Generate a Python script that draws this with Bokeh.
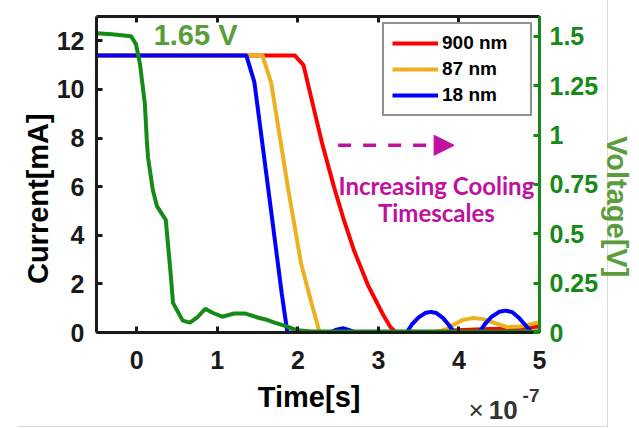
from bokeh.plotting import figure
from bokeh.layouts import column
from bokeh.models import (Range1d, LinearAxis, FixedTicker, Legend, LegendItem,
                          Label, Arrow, NormalHead)
from bokeh.embed import file_html
from bokeh.resources import INLINE

# time axis values are in units of 1e-7 s
t_ticks = [0, 1, 2, 3, 4, 5]
i_ticks = [0, 2, 4, 6, 8, 10, 12]
v_ticks = [0, 0.25, 0.5, 0.75, 1.0, 1.25, 1.5]
v_tick_labels = ["0", "0.25", "0.5", "0.75", "1", "1.25", "1.5"]

# current through the device for three film thicknesses [mA]
t_900 = [-0.5, 1.96, 2.07, 2.17, 2.30, 2.45, 2.56, 2.70, 2.87, 3.06, 3.15, 3.22,
         3.60, 3.90, 4.20, 4.50, 4.80, 5.0]
i_900 = [11.4, 11.4, 11.0, 9.6, 7.8, 5.97, 4.75, 3.35, 1.95, 0.72, 0.22, 0.0,
         0.0, 0.08, 0.12, 0.15, 0.2, 0.25]

t_87 = [-0.5, 1.56, 1.67, 1.88, 2.04, 2.17, 2.27, 3.72, 3.85, 3.95, 4.05, 4.18,
        4.30, 4.45, 4.60, 4.75, 4.90, 5.0]
i_87 = [11.4, 11.4, 10.25, 5.9, 2.84, 1.2, 0.0, 0.0, 0.15, 0.35, 0.52, 0.6,
        0.55, 0.38, 0.22, 0.25, 0.35, 0.42]

t_18 = [-0.5, 1.36, 1.46, 1.66, 1.80, 1.87, 2.40, 2.48, 2.56, 2.64, 2.72,
        3.35, 3.42, 3.50, 3.58, 3.65, 3.72, 3.80, 3.87, 3.94,
        4.25, 4.33, 4.41, 4.50, 4.58, 4.66, 4.74, 4.82, 4.90, 5.0]
i_18 = [11.4, 11.4, 10.3, 5.2, 1.6, 0.0, 0.0, 0.12, 0.18, 0.1, 0.0,
        0.0, 0.35, 0.62, 0.80, 0.85, 0.80, 0.60, 0.33, 0.0,
        0.0, 0.38, 0.66, 0.85, 0.90, 0.84, 0.62, 0.32, 0.02, 0.0]

# applied voltage pulse [V]
t_volt = [-0.5, -0.31, -0.07, -0.01, 0.04, 0.10, 0.125, 0.14, 0.20, 0.25, 0.36,
          0.42, 0.45, 0.57, 0.66, 0.75, 0.85, 0.94, 1.06, 1.21, 1.35, 1.50,
          1.60, 1.71, 1.83, 1.99, 2.17, 2.6, 3.0, 3.5, 4.0, 4.5, 5.0]
v_volt = [1.515, 1.51, 1.50, 1.46, 1.36, 1.16, 0.97, 0.885, 0.72, 0.64, 0.57,
          0.30, 0.15, 0.06, 0.05, 0.076, 0.12, 0.10, 0.08, 0.096, 0.096, 0.076,
          0.066, 0.05, 0.035, 0.012, 0.005, 0.005, 0.005, 0.005, 0.005, 0.005, 0.005]

RED, YELLOW, BLUE, GREEN = "#ff0000", "#edb120", "#0000ff", "#168a16"
LIGHT_GREEN = "#5a9e3c"
MAGENTA = "#c010a0"
AXIS = "#1a1a1a"
FONT = "Liberation Sans"
EDGE = "#dadada"
NBSP = "\u00a0"

p = figure(width=639, height=380, output_backend="svg", toolbar_location=None,
           title=None, x_range=Range1d(-0.5, 5), y_range=Range1d(0, 13),
           min_border_left=96, min_border_right=100, min_border_top=16,
           min_border_bottom=48, x_axis_type=None, y_axis_type=None)
p.extra_y_ranges = {"volt": Range1d(0, 1.6)}
p.grid.visible = False
p.outline_line_color = None
p.background_fill_color = "white"
p.border_fill_alpha = 0
p.styles = {"background": f"linear-gradient({EDGE},{EDGE}) 607px 0px / 1px 380px no-repeat, white"}


def style_axis(ax, color, label_color):
    ax.axis_line_width = 3
    ax.axis_line_color = color
    ax.major_tick_line_color = color
    ax.major_tick_line_width = 3
    ax.major_tick_in = 6
    ax.major_tick_out = 0
    ax.minor_tick_line_color = None
    ax.major_label_text_font = FONT
    ax.major_label_text_font_style = "bold"
    ax.major_label_text_font_size = "25px"
    ax.major_label_text_color = label_color
    ax.axis_label_text_font = FONT
    ax.axis_label_text_font_style = "bold"
    ax.axis_label_text_font_size = "29px"


xb = LinearAxis(ticker=FixedTicker(ticks=t_ticks))
style_axis(xb, AXIS, AXIS)
xb.major_label_standoff = 18
p.add_layout(xb, "below")

# frame top edge with inward ticks, no labels
xt = LinearAxis(ticker=FixedTicker(ticks=t_ticks))
style_axis(xt, AXIS, AXIS)
xt.major_label_overrides = {float(k): "" for k in t_ticks}
xt.major_label_text_font_size = "1px"
xt.major_label_standoff = 0
p.add_layout(xt, "above")

# padded with no-break spaces so the titles sit a little below the middle
yl = LinearAxis(ticker=FixedTicker(ticks=i_ticks), axis_label="Current[mA]" + NBSP * 6)
style_axis(yl, AXIS, AXIS)
yl.major_label_standoff = 12
yl.axis_label_standoff = 0
yl.axis_label_text_color = "black"
p.add_layout(yl, "left")

yr = LinearAxis(y_range_name="volt", ticker=FixedTicker(ticks=v_ticks),
                axis_label=NBSP * 8 + "Voltage[V]")
style_axis(yr, GREEN, GREEN)
yr.major_label_overrides = {float(k): s for k, s in zip(v_ticks, v_tick_labels)}
yr.major_label_standoff = 10
yr.axis_label_standoff = 0
yr.axis_label_text_color = LIGHT_GREEN
p.add_layout(yr, "right")

r_red = p.line(t_900, i_900, line_color=RED, line_width=4)
r_yel = p.line(t_87, i_87, line_color=YELLOW, line_width=4)
r_blu = p.line(t_18, i_18, line_color=BLUE, line_width=4)
p.line(t_volt, v_volt, line_color=GREEN, line_width=4, y_range_name="volt")

legend = Legend(items=[LegendItem(label="900 nm", renderers=[r_red]),
                       LegendItem(label="87 nm", renderers=[r_yel]),
                       LegendItem(label="18 nm", renderers=[r_blu])],
                location=(286, 216), orientation="vertical",
                border_line_color="#262626", border_line_width=2,
                background_fill_color="white", background_fill_alpha=1,
                label_text_font=FONT, label_text_font_style="bold",
                label_text_font_size="19px", label_text_color="black",
                glyph_width=46, glyph_height=22, label_height=22, label_width=80,
                label_standoff=4, spacing=4, padding=8, margin=0)
p.add_layout(legend)

p.add_layout(Label(x=0.73, y=12.22, text="1.65 V", text_align="center",
                   text_baseline="middle", text_font=FONT,
                   text_font_style="bold", text_font_size="29px",
                   text_color=LIGHT_GREEN))

p.add_layout(Arrow(end=NormalHead(size=20, fill_color=MAGENTA, line_color=MAGENTA),
                   x_start=2.50, y_start=7.7, x_end=3.94, y_end=7.7,
                   line_color=MAGENTA, line_width=3.5, line_dash="13 12"))

for txt, ty in (("Increasing Cooling", 6.05), ("Timescales", 4.94)):
    p.add_layout(Label(x=3.72, y=ty, text=txt, text_align="center",
                       text_baseline="middle", text_font="Lato",
                       text_font_style="bold", text_font_size="24px",
                       text_color=MAGENTA))

# strip under the plot carrying the time-axis title and its multiplier
q = figure(width=639, height=48, output_backend="svg", toolbar_location=None,
           title=None, x_range=Range1d(-0.5, 5), y_range=Range1d(0, 48),
           min_border_left=96, min_border_right=100, min_border_top=0,
           min_border_bottom=0, x_axis_type=None, y_axis_type=None)
q.grid.visible = False
q.outline_line_color = None
q.background_fill_alpha = 0
q.border_fill_alpha = 0
q.styles = {"background": f"linear-gradient({EDGE},{EDGE}) 18px 46px / 590px 1px no-repeat, "
                          f"linear-gradient({EDGE},{EDGE}) 607px 0px / 1px 47px no-repeat, white"}

q.add_layout(Label(x=2.14, y=31.5, text="Time[s]", text_align="center",
                   text_baseline="middle", text_font=FONT,
                   text_font_style="bold", text_font_size="29px",
                   text_color="black"))
q.add_layout(Label(x=4.12, y=18.5, text="\u00d7", text_align="left",
                   text_baseline="middle", text_font=FONT,
                   text_font_size="26px", text_color="#333333"))
q.add_layout(Label(x=4.37, y=18.5, text="10", text_align="left",
                   text_baseline="middle", text_font=FONT,
                   text_font_style="bold", text_font_size="26px",
                   text_color="#333333"))
q.add_layout(Label(x=4.79, y=33, text="-7", text_align="left",
                   text_baseline="middle", text_font=FONT,
                   text_font_style="bold", text_font_size="19px",
                   text_color="#333333"))

layout = column(p, q, spacing=0)
open("out.html", "w").write(file_html(layout, INLINE))
